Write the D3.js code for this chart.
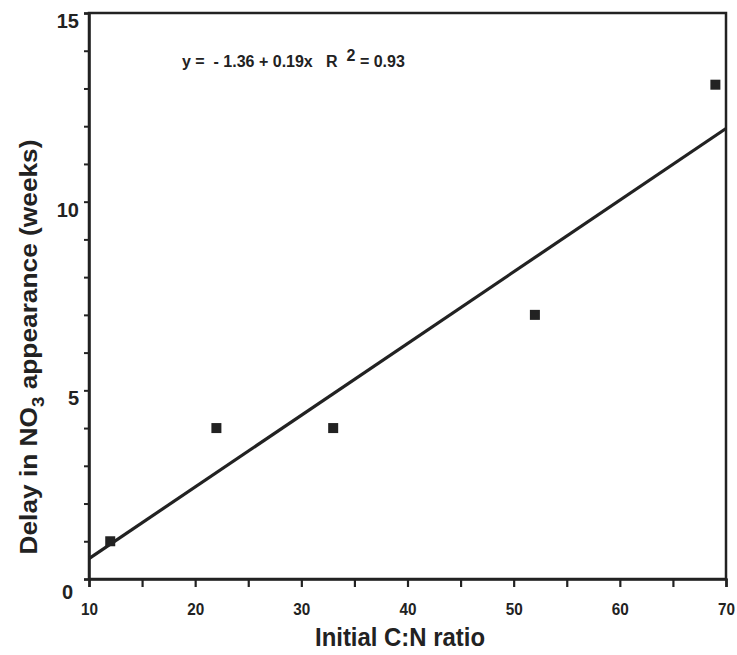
<!DOCTYPE html>
<html><head><meta charset="utf-8">
<script src="https://cdn.jsdelivr.net/npm/d3@7"></script>
<style>
body{margin:0;background:#fff;}
text{font-family:"Liberation Sans",Arial,Helvetica,sans-serif;font-weight:bold;fill:#222;}
</style></head><body>
<svg id="c" width="737" height="655"></svg>
<script>
const cnRatio = [12, 22, 33, 52, 69];
const delayWeeks = [1, 4, 4, 7, 13.1];
const fitIntercept = -1.36, fitSlope = 0.19;
const xTicks = [10,15,20,25,30,35,40,45,50,55,60,65,70];
const xTickLabels = [10,20,30,40,50,60,70];
const yTicks = d3.range(0,16,1);
const yTickLabels = [0,5,10,15];

const svg = d3.select("#c");
svg.append("rect").attr("width",737).attr("height",655).attr("fill","#fff");
const L=89, R=726, T=13, B=579;
const x = d3.scaleLinear().domain([10,70]).range([L,R]);
const y = d3.scaleLinear().domain([0,15]).range([B,T]);

// frame
svg.append("rect").attr("x",L).attr("y",T).attr("width",R-L).attr("height",B-T)
  .attr("fill","none").attr("stroke","#222").attr("stroke-width",2.5);

// x axis
const xa = svg.append("g").attr("transform",`translate(0,${B})`)
  .call(d3.axisBottom(x).tickValues(xTicks).tickSize(8).tickFormat(d=> xTickLabels.includes(d)? d : "").tickPadding(17));
xa.select(".domain").attr("stroke","#222").attr("stroke-width",2.5);
xa.selectAll(".tick line").attr("stroke","#222").attr("stroke-width",2.2);
xa.selectAll(".tick text").attr("font-size",16).attr("fill","#222").attr("font-weight","bold")
  .attr("textLength",d=> xTickLabels.includes(d)? 17 : null).attr("lengthAdjust","spacingAndGlyphs");

// y axis
const ya = svg.append("g").attr("transform",`translate(${L},0)`)
  .call(d3.axisLeft(y).tickValues(yTicks).tickSize(5).tickFormat(d=> yTickLabels.includes(d)? d : "").tickPadding(5));
ya.select(".domain").attr("stroke","#222").attr("stroke-width",2.5);
ya.selectAll(".tick line").attr("stroke","#222").attr("stroke-width",2);
ya.selectAll(".tick text").attr("font-size",20).attr("fill","#222").attr("font-weight","bold")
  .attr("dy", d=> d===0 ? "0.95em" : "0.72em")
  .attr("dx", d=> d===0 ? "-6" : "0");

// regression line
const fx = [10,70];
svg.append("line")
  .attr("x1",x(fx[0])).attr("y1",y(fitIntercept+fitSlope*fx[0]))
  .attr("x2",x(fx[1])).attr("y2",y(fitIntercept+fitSlope*fx[1]))
  .attr("stroke","#222").attr("stroke-width",3.2);

// points
const s=10;
svg.selectAll("rect.pt").data(cnRatio).enter().append("rect").attr("class","pt")
  .attr("x",(d)=>x(d)-s/2).attr("y",(d,i)=>y(delayWeeks[i])-s/2)
  .attr("width",s).attr("height",s).attr("fill","#222");

// equation
const eq = svg.append("text").attr("x",182).attr("y",67).attr("font-size",16).style("white-space","pre");
eq.append("tspan").text("y =  - 1.36 + 0.19x   R  ");
eq.append("tspan").attr("dy",-6).text("2");
eq.append("tspan").attr("dy",6).text(" = 0.93");

// x title
svg.append("text").attr("x",400).attr("y",646).attr("text-anchor","middle").attr("font-size",25)
  .attr("textLength",170).attr("lengthAdjust","spacingAndGlyphs")
  .text("Initial C:N ratio");

// y title
const yt = svg.append("text").attr("transform","translate(37,347) rotate(-90)")
  .attr("text-anchor","middle").attr("font-size",24)
  .attr("textLength",415).attr("lengthAdjust","spacingAndGlyphs");
yt.append("tspan").text("Delay in NO");
yt.append("tspan").attr("dy",7).attr("font-size",17).text("3");
yt.append("tspan").attr("dy",-7).text(" appearance (weeks)");
</script></body></html>
